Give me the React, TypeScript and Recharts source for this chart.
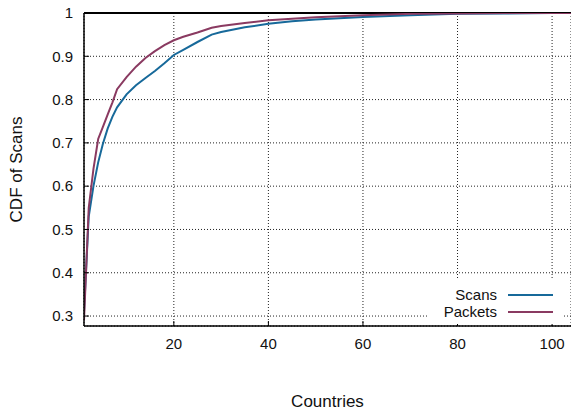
import React from "react";
import { CartesianGrid, Legend, Line, LineChart, ReferenceLine, XAxis, YAxis } from "recharts";

const countries = [1, 2, 3, 4, 5, 6, 7, 8, 10, 12, 14, 16, 18, 20, 22, 25, 28, 30, 35, 40, 45, 50, 60, 70, 80, 90, 100, 104];
const scans = [0.31, 0.53, 0.6, 0.655, 0.698, 0.733, 0.76, 0.782, 0.812, 0.833, 0.85, 0.866, 0.884, 0.903, 0.915, 0.933, 0.95, 0.956, 0.967, 0.975, 0.981, 0.985, 0.991, 0.995, 0.998, 0.999, 1, 1];
const packets = [0.29, 0.55, 0.64, 0.709, 0.737, 0.765, 0.793, 0.824, 0.852, 0.876, 0.896, 0.912, 0.926, 0.937, 0.945, 0.955, 0.966, 0.97, 0.977, 0.983, 0.987, 0.99, 0.995, 0.998, 0.999, 1, 1, 1];
const xTicks = [20, 40, 60, 80, 100];
const yTicks = [0.3, 0.4, 0.5, 0.6, 0.7, 0.8, 0.9, 1];

const data = countries.map((x, i) => ({ x, scans: scans[i], packets: packets[i] }));

const FONT = "'Liberation Sans', Arial, Helvetica, sans-serif";
const BLUE = "#17699A";
const PURPLE = "#8A3A61";
const tickStyle = { fill: "#111", fontSize: 15, fontFamily: FONT };
const labelStyle = { fontSize: 17, fontFamily: FONT, fill: "#111" };

function LegendBox() {
  const row = (label: string, color: string) => (
    <div style={{ display: "flex", alignItems: "center", height: 16.5 }}>
      <span style={{ width: 69, textAlign: "right", fontSize: 15, color: "#111" }}>{label}</span>
      <span style={{ display: "inline-block", width: 45, height: 2, background: color, marginLeft: 11 }} />
    </div>
  );
  return (
    <div style={{ background: "#fff", width: 134, height: 44, paddingTop: 7, boxSizing: "border-box", fontFamily: FONT, lineHeight: "16px" }}>
      {row("Scans", BLUE)}
      {row("Packets", PURPLE)}
    </div>
  );
}

export default function App() {
  return (
    <div style={{ position: "absolute", left: 0, top: 0, width: 571, height: 413, background: "#fff" }}>
      <LineChart width={571} height={413} data={data} margin={{ top: 13, right: 0, left: 0, bottom: 0 }}>
        <CartesianGrid stroke="#222" strokeDasharray="1 2" />
        <XAxis
          dataKey="x"
          type="number"
          domain={[1, 104]}
          ticks={xTicks}
          allowDataOverflow
          height={87}
          tickSize={-5}
          tickMargin={17}
          tick={tickStyle}
          axisLine={{ stroke: "#000", strokeWidth: 1.5 }}
          tickLine={{ stroke: "#000" }}
          label={{ value: "Countries", position: "insideBottom", offset: 6, style: labelStyle }}
        />
        <XAxis
          xAxisId="top"
          orientation="top"
          dataKey="x"
          type="number"
          domain={[1, 104]}
          ticks={xTicks}
          height={0}
          tickSize={-5}
          tick={false}
          axisLine={{ stroke: "#000", strokeWidth: 2 }}
          tickLine={{ stroke: "#000" }}
        />
        <YAxis
          type="number"
          domain={[0.277, 1]}
          ticks={yTicks}
          allowDataOverflow
          width={84}
          tickSize={-5}
          tickMargin={16}
          tick={tickStyle}
          tickFormatter={(v: number) => (v === 1 ? "1" : v.toFixed(1))}
          axisLine={{ stroke: "#000", strokeWidth: 1.5 }}
          tickLine={{ stroke: "#000" }}
          label={{ value: "CDF of Scans", angle: -90, position: "insideLeft", offset: 16, style: { ...labelStyle, textAnchor: "middle" } }}
        />
        <ReferenceLine y={1} stroke="#000" strokeWidth={2} />
        <Legend
          layout="horizontal"
          verticalAlign="middle"
          align="center"
          wrapperStyle={{ left: 428, top: 280, width: 134 }}
          content={() => <LegendBox />}
        />
        <Line type="linear" dataKey="scans" stroke={BLUE} strokeWidth={2} dot={false} isAnimationActive={false} />
        <Line type="linear" dataKey="packets" stroke={PURPLE} strokeWidth={2} dot={false} isAnimationActive={false} />
      </LineChart>
    </div>
  );
}
